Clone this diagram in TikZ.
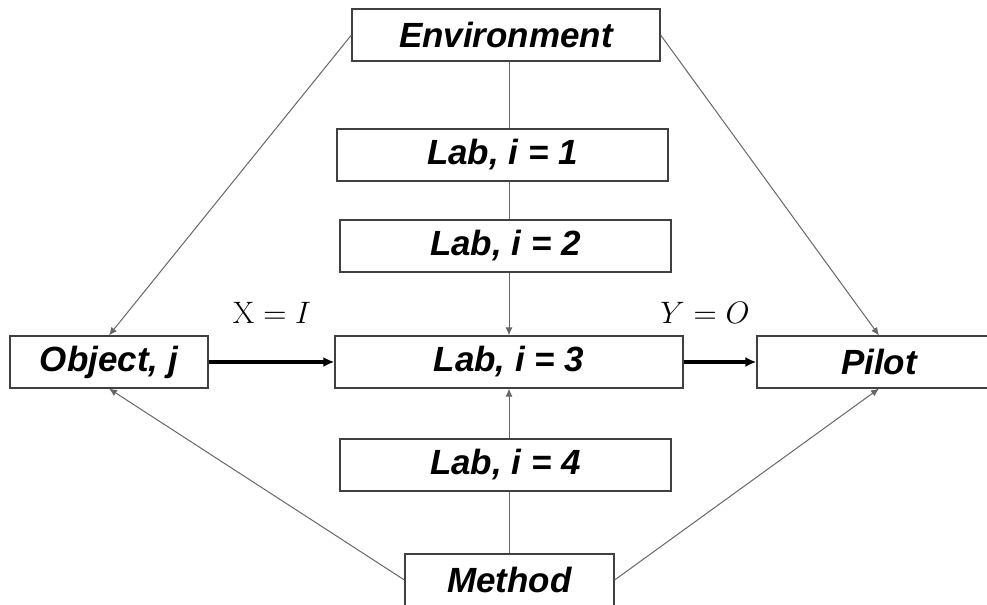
\RequirePackage{fix-cm}
\documentclass[tikz,border=0pt]{standalone}
\usepackage{fontspec}
\setsansfont{Liberation Sans}
\usetikzlibrary{arrows.meta}
\begin{document}
\begin{tikzpicture}[x=0.5pt, y=-0.5pt,
	box/.style={draw=black!75, line width=0.6pt, fill=white, inner sep=0pt, minimum height=26pt, font=\sffamily\bfseries\itshape\fontsize{17.5}{20}\selectfont},
	link/.style={draw=black!60, line width=0.5pt},
	flow/.style={link, -{Latex[length=4pt,width=3.5pt]}},
	main/.style={draw=black, line width=1.6pt, -{Latex[length=5.5pt,width=5pt]}},
	eq/.style={font=\fontsize{15.5}{18}\selectfont}
	]
	\useasboundingbox (0,0) rectangle (987,605);
	
	% Boxes
	\node[box, minimum width=154pt] (env) at (506,35) {Environment};
	\node[box, minimum width=165.5pt] (lab1) at (502.5,155) {Lab, i = 1};
	\node[box, minimum width=165.5pt] (lab2) at (505.5,246) {Lab, i = 2};
	\node[box, minimum width=174pt] (lab3) at (509,362) {Lab, i = 3};
	\node[box, minimum width=165.5pt] (lab4) at (505.5,465) {Lab, i = 4};
	\node[box, minimum width=99pt] (obj) at (109,362) {Object, j};
	\node[box, minimum width=122pt] (pilot) at (879,362) {Pilot};
	\node[box, minimum width=104.5pt] (meth) at (509.5,580) {Method};
	
	% Labels on the main flow
	\node[eq] (xin) at (272,313) {$\mathrm{X} = I$};
	\node[eq] (yout) at (705,313) {$Y = O$};
	
	% Vertical chain
	\draw[link] (env.south -| lab3.north) -- (lab1.north -| lab3.north);
	\draw[link] (lab1.south -| lab3.north) -- (lab2.north -| lab3.north);
	\draw[flow] (lab2.south -| lab3.north) -- (lab3.north);
	\draw[flow] (lab4.north -| lab3.south) -- (lab3.south);
	\draw[link] (meth.north) -- (lab4.south -| meth.north);
	
	% Diagonals
	\draw[flow] (env.west) -- (obj.north);
	\draw[flow] (env.east) -- (pilot.north);
	\draw[flow] (meth.west) -- (obj.south);
	\draw[flow] (meth.east) -- (pilot.south);
	
	% Main flow
	\draw[main] (obj.east) -- (lab3.west);
	\draw[main] (lab3.east) -- (pilot.west);
\end{tikzpicture}
\end{document}
